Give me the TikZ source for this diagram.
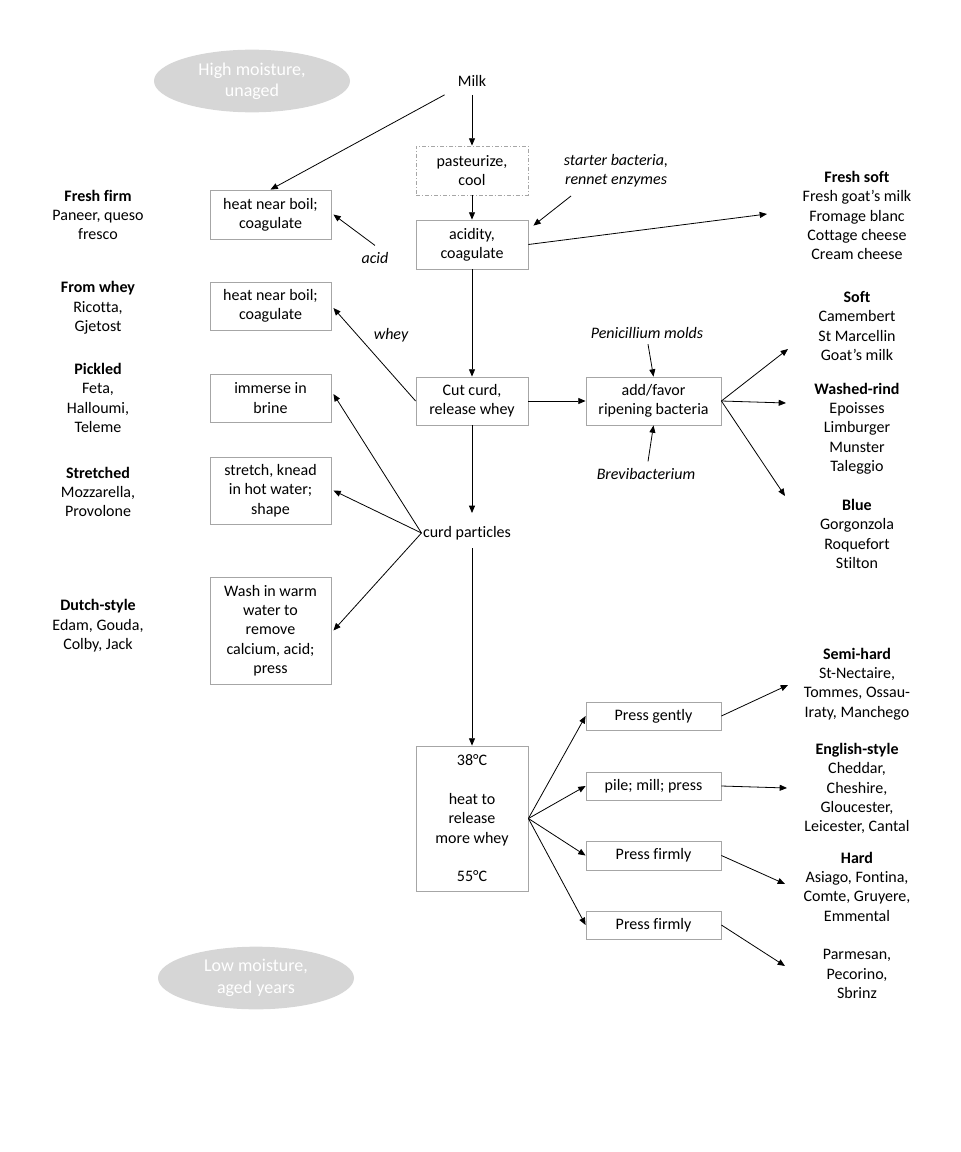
\documentclass[tikz,border=0pt]{standalone}
\usepackage{fontspec}
\setmainfont[Ligatures=NoCommon]{Carlito}
\usetikzlibrary{arrows.meta,shapes.geometric}
\definecolor{boxgray}{HTML}{A6A6A6}
\definecolor{ellgray}{HTML}{D6D6D6}
\begin{document}
\begin{tikzpicture}[x=0.75pt,y=-0.75pt,
  every node/.style={font=\fontsize{12}{14.5}\selectfont, align=center, inner sep=0pt},
  box/.style={draw=boxgray, line width=0.6pt},
  dbox/.style={draw=boxgray, line width=0.6pt, dash pattern=on 3pt off 1.5pt on 0.8pt off 1.5pt},
  lbl/.style={font=\fontsize{12}{14.5}\selectfont\itshape},
  cloud/.style={ellipse, fill=ellgray, text=white, minimum width=147pt, minimum height=47pt, font=\fontsize{13.5}{16}\selectfont},
  arr/.style={-{Triangle[length=5.5pt,width=4.5pt]}, line width=0.6pt, black}]
\useasboundingbox (0,0) rectangle (960,1152);

% ellipses
\node[cloud] (hm) at (252,81) {High moisture,\\unaged};
\node[cloud] (lm) at (256,978) {Low moisture,\\aged years};

% central column
\node (milk) at (472,81) {Milk};
\node[dbox, minimum width=84pt, minimum height=36.75pt] (past) at (472,170.5) {pasteurize,\\cool};
\node[box, minimum width=84pt, minimum height=36.75pt] (acidbox) at (472,244.5) {acidity,\\coagulate};
\node[box, minimum width=84pt, minimum height=36pt] (cut) at (472,401) {Cut curd,\\release whey};
\node[inner xsep=1pt, inner ysep=7.5pt] (cp) at (467,533) {curd particles};
\node[box, minimum width=84pt, minimum height=108.75pt] (heatbox) at (472,818.5) {38°C\\\mbox{}\\heat to\\release\\more whey\\\mbox{}\\55°C};

% left process boxes
\node[box, minimum width=90.75pt, minimum height=36.75pt] (heat1) at (270.5,214.5) {heat near boil;\\coagulate};
\node[box, minimum width=90.75pt, minimum height=36pt] (heat2) at (270.5,306) {heat near boil;\\coagulate};
\node[box, minimum width=90.75pt, minimum height=36pt] (brine) at (270.5,398) {immerse in\\brine};
\node[box, minimum width=90.75pt, minimum height=50.25pt] (stretch) at (270.5,490.5) {stretch, knead\\in hot water;\\shape};
\node[box, minimum width=90.75pt, minimum height=80.25pt] (wash) at (270.5,630.5) {Wash in warm\\water to\\remove\\calcium, acid;\\press};

% right process boxes
\node[box, minimum width=101.25pt, minimum height=36pt] (add) at (653.5,401) {add/favor\\ripening bacteria};
\node[box, minimum width=101.25pt, minimum height=21pt] (pg) at (653.5,716) {Press gently};
\node[box, minimum width=101.25pt, minimum height=21pt] (pile) at (653.5,786) {pile; mill; press};
\node[box, minimum width=101.25pt, minimum height=21.75pt] (pf1) at (653.5,855.5) {Press firmly};
\node[box, minimum width=101.25pt, minimum height=21pt] (pf2) at (653.5,925) {Press firmly};

% italic labels
\node[lbl] (acidlbl) at (375,258) {acid};
\node[lbl] (starter) at (616,170.5) {starter bacteria,\\rennet enzymes};
\node[lbl] (wheylbl) at (391,335) {whey};
\node[lbl] (pen) at (647,333) {Penicillium molds};
\node[lbl] (brev) at (646,474) {Brevibacterium};

% left cheese lists
\node (freshfirm) at (98,215) {\textbf{Fresh firm}\\Paneer, queso\\fresco};
\node (fromwhey) at (98,308) {\textbf{From whey}\\Ricotta,\\Gjetost};
\node (pickled) at (98,398) {\textbf{Pickled}\\Feta,\\Halloumi,\\Teleme};
\node (stretched) at (98,492) {\textbf{Stretched}\\Mozzarella,\\Provolone};
\node (dutch) at (98,626) {\textbf{Dutch-style}\\Edam, Gouda,\\Colby, Jack};

% right cheese lists
\node (freshsoft) at (857,215.5) {\textbf{Fresh soft}\\Fresh goat’s milk\\Fromage blanc\\Cottage cheese\\Cream cheese};
\node (soft) at (857,326) {\textbf{Soft}\\Camembert\\St Marcellin\\Goat’s milk};
\node (washed) at (857,428.5) {\textbf{Washed-rind}\\Epoisses\\Limburger\\Munster\\Taleggio};
\node (blue) at (857,534) {\textbf{Blue}\\Gorgonzola\\Roquefort\\Stilton};
\node (semihard) at (857,684) {\textbf{Semi-hard}\\St-Nectaire,\\Tommes, Ossau-\\Iraty, Manchego};
\node (english) at (857,788.5) {\textbf{English-style}\\Cheddar,\\Cheshire,\\Gloucester,\\Leicester, Cantal};
\node (hard) at (857,886.5) {\textbf{Hard}\\Asiago, Fontina,\\Comte, Gruyere,\\Emmental};
\node (parm) at (857,974) {Parmesan,\\Pecorino,\\Sbrinz};

% free ends
\coordinate (fsEnd) at (767,214);
\coordinate (stStart) at (571,196);
\coordinate (softEnd) at (788,349);
\coordinate (washedEnd) at (786,403);
\coordinate (blueEnd) at (785,496);
\coordinate (semiEnd) at (788,685);
\coordinate (engEnd) at (787,788);
\coordinate (hardEnd) at (785,884);
\coordinate (parmEnd) at (785,966);
\coordinate (cpTop) at (472,513);
\coordinate (cpBot) at (472,548);

% connectors
\draw[arr] ([yshift=-6pt]milk.south) -- (past.north);
\draw[arr] ([xshift=-9.75pt,yshift=-6pt]milk.south west) -- (heat1.north);
\draw[arr] (past) -- (acidbox);
\draw[arr] (acidbox.east) -- (fsEnd);
\draw[arr] (stStart) -- ([xshift=3.75pt,yshift=-4.5pt]acidbox.north east);
\draw[arr] ([yshift=5pt]acidlbl.north) -- ([xshift=1.5pt]heat1.east);
\draw[arr] (acidbox) -- (cut);
\draw[arr] (cut.west) -- ([xshift=1.5pt,yshift=-1.5pt]heat2.east);
\draw[arr] (cut) -- (add);
\draw[arr] ([xshift=0.75pt,yshift=-4pt]pen.south) -- (add.north);
\draw[arr] ([xshift=1.5pt,yshift=5pt]brev.north) -- (add.south);
\draw[arr] (add.east) -- (softEnd);
\draw[arr] (add.east) -- (washedEnd);
\draw[arr] (add.east) -- (blueEnd);
\draw[arr] (cut) -- (cpTop);
\draw[arr] (cp.west) -- ([xshift=1.5pt,yshift=3pt]brine.east);
\draw[arr] (cp.west) -- ([xshift=1.5pt]stretch.east);
\draw[arr] (cp.west) -- ([xshift=1.5pt]wash.east);
\draw[arr] (cpBot) -- (heatbox);
\draw[arr] (heatbox.east) -- (pg.west);
\draw[arr] (heatbox.east) -- (pile.west);
\draw[arr] (heatbox.east) -- (pf1.west);
\draw[arr] (heatbox.east) -- (pf2.west);
\draw[arr] (pg.east) -- (semiEnd);
\draw[arr] (pile.east) -- (engEnd);
\draw[arr] (pf1.east) -- (hardEnd);
\draw[arr] (pf2.east) -- (parmEnd);
\end{tikzpicture}
\end{document}
